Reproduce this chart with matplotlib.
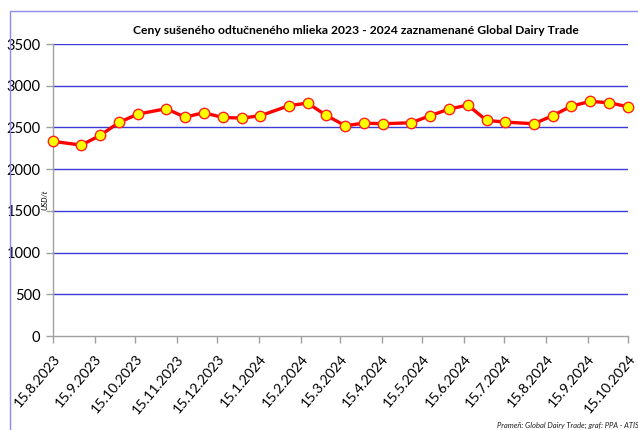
import matplotlib
matplotlib.use("Agg")
import matplotlib.pyplot as plt
import matplotlib.dates as mdates
from matplotlib.patches import Rectangle
import datetime as dt

# ---- data ----
auction_dates = ["15.8.2023", "5.9.2023", "19.9.2023", "3.10.2023", "17.10.2023",
                 "7.11.2023", "21.11.2023", "5.12.2023", "19.12.2023", "2.1.2024",
                 "16.1.2024", "6.2.2024", "20.2.2024", "5.3.2024", "19.3.2024",
                 "2.4.2024", "16.4.2024", "7.5.2024", "21.5.2024", "4.6.2024",
                 "18.6.2024", "2.7.2024", "16.7.2024", "6.8.2024", "20.8.2024",
                 "3.9.2024", "17.9.2024", "1.10.2024", "15.10.2024"]
prices = [2333, 2288, 2404, 2560, 2660, 2724, 2624, 2676, 2620, 2612,
          2640, 2760, 2792, 2644, 2520, 2552, 2544, 2556, 2640, 2720,
          2768, 2584, 2564, 2544, 2640, 2756, 2812, 2796, 2748]
tick_labels = ["15.8.2023", "15.9.2023", "15.10.2023", "15.11.2023", "15.12.2023",
               "15.1.2024", "15.2.2024", "15.3.2024", "15.4.2024", "15.5.2024",
               "15.6.2024", "15.7.2024", "15.8.2024", "15.9.2024", "15.10.2024"]
y_ticks = [0, 500, 1000, 1500, 2000, 2500, 3000, 3500]

title = "Ceny sušeného odtučneného mlieka 2023 - 2024 zaznamenané Global Dairy Trade"
ylabel = "USD/t"
source = "Prameň: Global Dairy Trade; graf: PPA - ATIS"

def parse(s):
    d, m, y = s.split(".")
    return dt.datetime(int(y), int(m), int(d))

x = [parse(s) for s in auction_dates]
xt = [parse(s) for s in tick_labels]

plt.rcParams['font.family'] = ['Lato', 'DejaVu Sans']

W, H = 638, 430
fig = plt.figure(figsize=(W / 100, H / 100), dpi=100)
ax = fig.add_axes([53 / W, 1 - 336 / H, (628 - 53) / W, (336 - 44) / H])

# chart border (cropped)
fig.patches.append(Rectangle((10 / W, -0.1), 1.2, (H - 11) / H + 0.1,
                             transform=fig.transFigure, fill=False,
                             edgecolor="#8c8cf0", linewidth=1.0))

ax.set_ylim(0, 3500)
ax.set_xlim(xt[0], xt[-1])
ax.set_yticks(y_ticks)
ax.set_yticklabels([str(v) for v in y_ticks], fontsize=10.5)
ax.set_xticks(mdates.date2num(xt))
ax.set_xticklabels(tick_labels, rotation=50, ha="right", va="top",
                   rotation_mode="anchor", fontsize=10.2)

for v in y_ticks[1:]:
    ax.axhline(v, color="#3a3ad8", linewidth=1.0, zorder=1)

for s in ["top", "right"]:
    ax.spines[s].set_visible(False)
for s in ["left", "bottom"]:
    ax.spines[s].set_color("#a0a0a0")
    ax.spines[s].set_linewidth(1.0)
ax.tick_params(axis="both", colors="#a0a0a0", labelcolor="black", length=5, width=1)
ax.tick_params(axis="x", pad=7)
ax.tick_params(axis="y", pad=4)

ax.plot(x, prices, color="#ff0000", linewidth=2.4, marker="o", markersize=7.5,
        markerfacecolor="#ffff00", markeredgecolor="#ff2020", markeredgewidth=1.0,
        zorder=3, clip_on=False)

fig.text(356 / W, 1 - 30 / H, title, ha="center", va="center",
         fontsize=8.7, fontweight="bold")
fig.text(45 / W, 1 - 200 / H, ylabel, rotation=90, ha="center", va="center",
         fontsize=5.5, style="italic")
fig.text(497 / W, 1 - 425 / H, source, ha="left", va="center",
         fontsize=5.5, style="italic", color="#202020")

fig.savefig("out.png", dpi=100)
